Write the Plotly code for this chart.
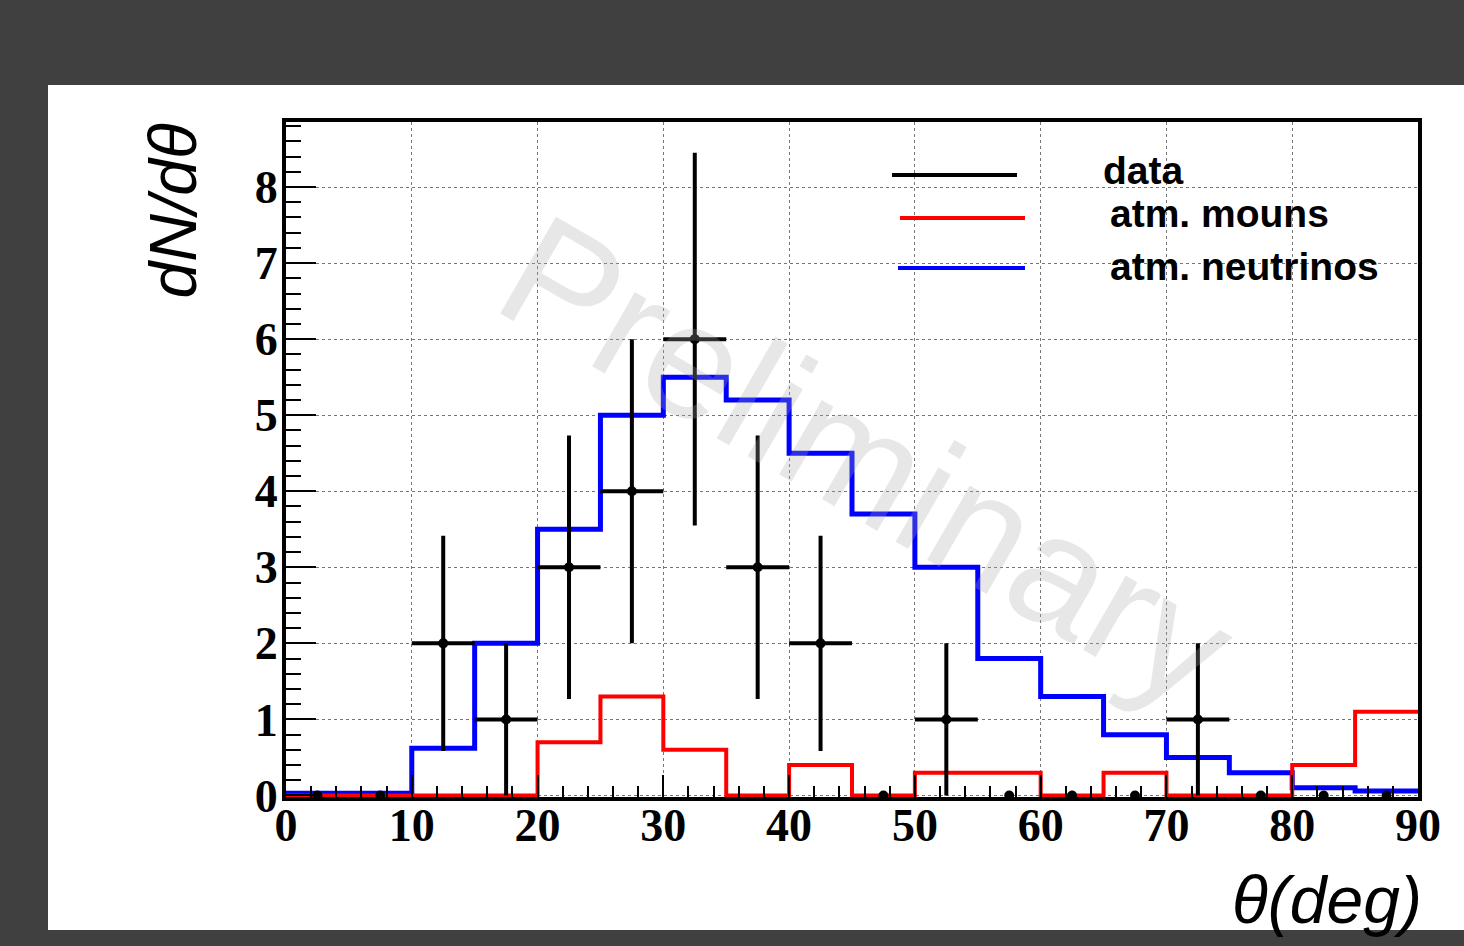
import numpy as np
import plotly.graph_objects as go

# ---- data ----
bin_edges = list(range(0, 95, 5))            # 0..90, width 5
bin_centers = [e + 2.5 for e in range(0, 90, 5)]
data_counts = [0, 0, 2, 1, 3, 4, 6, 3, 2, 0, 1, 0, 0, 0, 1, 0, 0, 0]
atm_muons = [0, 0, 0, 0, 0.7, 1.3, 0.6, 0, 0.4, 0, 0.3, 0.3, 0, 0.3, 0, 0, 0.4, 1.1]
atm_neutrinos = [0.03, 0.03, 0.62, 2.0, 3.5, 5.0, 5.5, 5.2, 4.5, 3.7, 3.0, 1.8, 1.3, 0.8, 0.5, 0.3, 0.1, 0.06]
legend_labels = ["data", "atm. mouns", "atm. neutrinos"]
x_ticks = [0, 10, 20, 30, 40, 50, 60, 70, 80, 90]
y_ticks = [0, 1, 2, 3, 4, 5, 6, 7, 8]

data_err_y = [np.sqrt(v) for v in data_counts]
data_err_x = [2.5 if v > 0 else 0 for v in data_counts]

W, H = 1464, 946
L, R, T, B = 286, 46, 122, 149
PW, PH = W - L - R, H - T - B


def px(xp):
    return (xp - L) / PW


def py(yp):
    return (H - B - yp) / PH


fig = go.Figure()

# histograms as steps
fig.add_trace(go.Scatter(
    x=bin_edges, y=atm_neutrinos + [atm_neutrinos[-1]], mode="lines",
    line=dict(color="#0000ff", width=5, shape="hv"), showlegend=False))
fig.add_trace(go.Scatter(
    x=bin_edges, y=atm_muons + [atm_muons[-1]], mode="lines",
    line=dict(color="#ff0000", width=4, shape="hv"), showlegend=False))

# data points
fig.add_trace(go.Scatter(
    x=bin_centers, y=data_counts, mode="markers",
    marker=dict(color="black", size=10),
    error_y=dict(type="data", array=data_err_y, visible=True, color="black", thickness=4, width=0),
    error_x=dict(type="data", array=data_err_x, visible=True, color="black", thickness=4, width=0),
    cliponaxis=False, showlegend=False))

shapes = [
    dict(type="rect", xref="paper", yref="paper", x0=px(48), x1=1.06, y0=py(930), y1=py(85),
         fillcolor="white", line=dict(width=0), layer="below"),
]
leg_lines = [("black", 892, 1017, 175), ("#ff0000", 900, 1025, 218), ("#0000ff", 898, 1025, 268)]
for c, a, b, yy in leg_lines:
    shapes.append(dict(type="line", xref="paper", yref="paper", x0=px(a), x1=px(b), y0=py(yy), y1=py(yy),
                       line=dict(color=c, width=4)))

annotations = [
    dict(text="Preliminary", x=46.3, y=4.41, xref="x", yref="y", showarrow=False, textangle=30,
         font=dict(family="Liberation Sans", size=162, color="rgba(170,170,170,0.28)")),
    dict(text="dN/d\u03b8", xref="paper", yref="paper", x=px(172), y=py(122), xanchor="center", yanchor="top",
         textangle=-90, showarrow=False,
         font=dict(family="Liberation Sans", size=66, style="italic", color="black")),
    dict(text="\u03b8(deg)", xref="paper", yref="paper", x=px(1424), y=py(900), xanchor="right", yanchor="middle",
         showarrow=False, font=dict(family="Liberation Sans", size=66, style="italic", color="black")),
]
leg_pos = [(1101, 170), (1108, 214), (1108, 266)]
for lab, (a, yy) in zip(legend_labels, leg_pos):
    annotations.append(dict(text=lab, xref="paper", yref="paper", x=px(a), y=py(yy), xanchor="left",
                            yanchor="middle", showarrow=False,
                            font=dict(family="Liberation Sans", size=39, weight="bold", color="black")))

tickfont = dict(family="Liberation Serif", size=46, weight="bold", color="black")

fig.update_layout(
    width=W, height=H,
    margin=dict(l=L, r=R, t=T, b=B, pad=0),
    paper_bgcolor="#404040", plot_bgcolor="white",
    shapes=shapes, annotations=annotations, showlegend=False,
    xaxis=dict(range=[0, 90], tickvals=x_ticks, ticktext=[str(v) for v in x_ticks],
               ticks="inside", ticklen=22, tickwidth=2, tickcolor="black",
               showline=True, linewidth=4, linecolor="black", mirror=True,
               showgrid=True, gridcolor="#777777", gridwidth=1, griddash="dot", zeroline=False,
               tickfont=tickfont, ticklabelstandoff=-15,
               minor=dict(dtick=2, tick0=0, ticks="inside", ticklen=11, tickwidth=2, tickcolor="black", showgrid=False)),
    yaxis=dict(range=[-0.02, 8.855], tickvals=y_ticks, ticktext=[str(v) for v in y_ticks],
               ticks="inside", ticklen=30, tickwidth=2, tickcolor="black",
               showline=True, linewidth=4, linecolor="black", mirror=True,
               showgrid=True, gridcolor="#777777", gridwidth=1, griddash="dot", zeroline=False,
               tickfont=tickfont, ticklabelstandoff=-5,
               minor=dict(dtick=0.2, tick0=0, ticks="inside", ticklen=15, tickwidth=2, tickcolor="black", showgrid=False)),
)

fig.write_html("out.html")
